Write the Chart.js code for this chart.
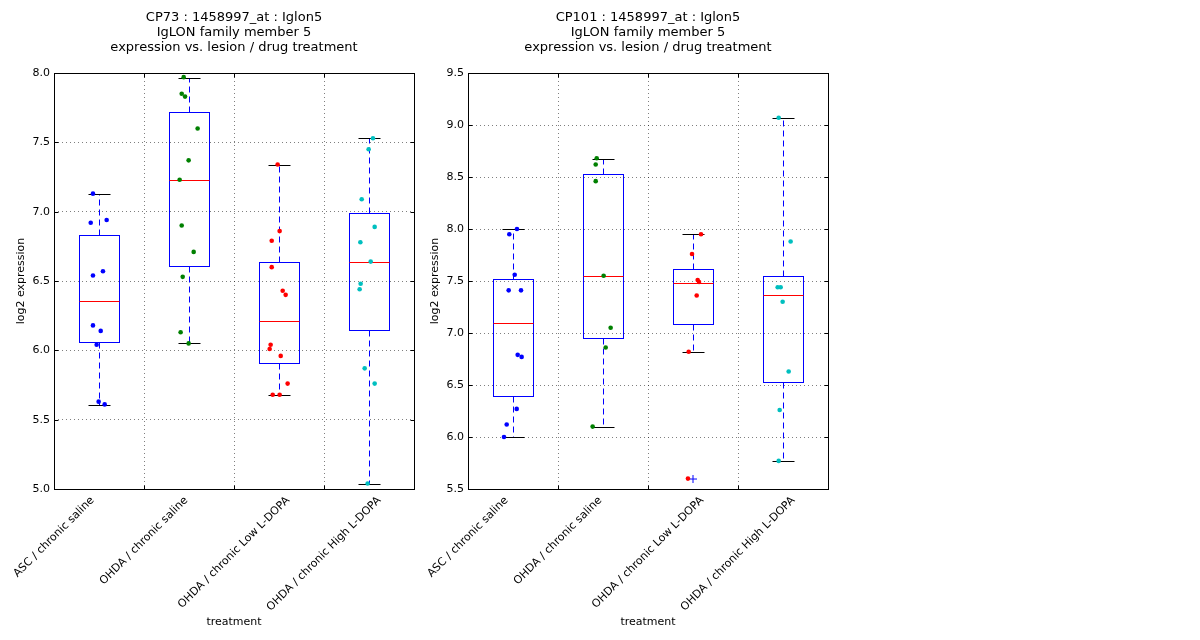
<!DOCTYPE html>
<html>
<head>
<meta charset="utf-8">
<script src="https://cdn.jsdelivr.net/npm/chart.js@4.4.0/dist/chart.umd.min.js"></script>
<style>
body { margin: 0; background: #fff; }
#wrap { position: relative; width: 1200px; height: 640px; overflow: hidden; }
#c1 { position: absolute; left: 0; top: 0; }
#c2 { position: absolute; left: 420px; top: 0; }
</style>
</head>
<body>
<div id="wrap">
  <canvas id="c1" width="468" height="640"></canvas>
  <canvas id="c2" width="456" height="640"></canvas>
</div>
<script>
var categories = ['ASC / chronic saline', 'OHDA / chronic saline', 'OHDA / chronic Low L-DOPA', 'OHDA / chronic High L-DOPA'];
var groupColors = ['#0000ff', '#008000', '#ff0000', '#00bfbf'];
var labelTicks = [0.5, 1.5, 2.5, 3.5];

// CP73 - one array per treatment group, plus the x jitter used for each dot
var cp73Values = [
    [7.13, 6.92, 6.94, 6.57, 6.54, 6.18, 6.14, 6.04, 5.63, 5.61],
    [7.97, 7.85, 7.83, 7.60, 7.37, 7.23, 6.90, 6.71, 6.53, 6.13, 6.05],
    [7.34, 6.86, 6.79, 6.60, 6.43, 6.40, 6.04, 6.01, 5.96, 5.76, 5.68, 5.68],
    [7.53, 7.45, 7.09, 6.89, 6.78, 6.64, 6.48, 6.44, 5.87, 5.76, 5.04]
];
var cp73Jitter = [
    [0.933, 0.908, 1.085, 1.044, 0.933, 0.933, 1.019, 0.974, 0.996, 1.063],
    [1.941, 1.919, 1.956, 2.096, 1.996, 1.896, 1.919, 2.052, 1.930, 1.907, 1.996],
    [2.985, 3.007, 2.919, 2.919, 3.041, 3.074, 2.907, 2.896, 3.019, 3.096, 2.930, 3.007],
    [4.044, 3.996, 3.919, 4.063, 3.904, 4.019, 3.907, 3.896, 3.952, 4.063, 3.985]
];
var cp73Q1 = [6.06, 6.61, 5.91, 6.15];
var cp73Median = [6.355, 7.23, 6.215, 6.635];
var cp73Q3 = [6.83, 7.72, 6.64, 6.99];
var cp73Low = [5.605, 6.05, 5.677, 5.035];
var cp73High = [7.127, 7.965, 7.337, 7.531];
var cp73Fliers = [[], [], [], []];

// CP101
var cp101Values = [
    [8.00, 7.95, 7.56, 7.41, 7.41, 6.79, 6.77, 6.27, 6.12, 6.00],
    [8.68, 8.62, 8.46, 7.55, 7.05, 6.86, 6.10],
    [7.95, 7.76, 7.51, 7.49, 7.36, 6.82, 5.60],
    [9.07, 7.88, 7.44, 7.44, 7.30, 6.63, 6.26, 5.77]
];
var cp101Jitter = [
    [1.044, 0.959, 1.019, 0.952, 1.089, 1.052, 1.096, 1.041, 0.930, 0.900],
    [1.930, 1.919, 1.919, 2.007, 2.085, 2.030, 1.885],
    [3.089, 2.989, 3.052, 3.067, 3.041, 2.952, 2.944],
    [3.952, 4.085, 3.941, 3.974, 3.996, 4.063, 3.963, 3.952]
];
var cp101Q1 = [6.39, 6.95, 7.085, 6.527];
var cp101Median = [7.095, 7.547, 7.479, 7.364];
var cp101Q3 = [7.515, 8.53, 7.62, 7.545];
var cp101Low = [6.0, 6.094, 6.816, 5.767];
var cp101High = [8.0, 8.673, 7.952, 9.068];
var cp101Fliers = [[], [], [5.596], []];

Chart.defaults.font.family = "'DejaVu Sans', sans-serif";
Chart.defaults.font.size = 11;
Chart.defaults.color = '#000';

function px(v) { return Math.round(v) + 0.5; }

function line(ctx, x1, y1, x2, y2) {
    ctx.beginPath();
    ctx.moveTo(x1, y1);
    ctx.lineTo(x2, y2);
    ctx.stroke();
}

// boxes, whiskers, caps and medians, placed with the chart's own scales
var boxPlugin = {
    id: 'boxes',
    beforeDatasetsDraw: function(chart) {
        var st = chart.config.options.boxStats;
        var xs = chart.scales.x, ys = chart.scales.y, ctx = chart.ctx;
        ctx.save();
        ctx.lineWidth = 1;
        for (var i = 0; i < categories.length; i++) {
            var c = i + 1;
            var xl = px(xs.getPixelForValue(c - 0.225)), xr = px(xs.getPixelForValue(c + 0.225));
            var xc = px(xs.getPixelForValue(c));
            var cl = px(xs.getPixelForValue(c - 0.125)), cr = px(xs.getPixelForValue(c + 0.125));
            var yq1 = px(ys.getPixelForValue(st.q1[i])), yq3 = px(ys.getPixelForValue(st.q3[i]));
            var ym = px(ys.getPixelForValue(st.median[i]));
            var ylo = px(ys.getPixelForValue(st.low[i])), yhi = px(ys.getPixelForValue(st.high[i]));

            ctx.strokeStyle = '#0000ff';
            ctx.setLineDash([6, 4]);
            line(ctx, xc, yq3, xc, yhi);
            line(ctx, xc, yq1, xc, ylo);
            ctx.setLineDash([]);

            ctx.strokeStyle = '#000';
            line(ctx, cl, yhi, cr, yhi);
            line(ctx, cl, ylo, cr, ylo);

            ctx.strokeStyle = '#0000ff';
            ctx.strokeRect(xl, yq3, xr - xl, yq1 - yq3);

            ctx.strokeStyle = '#ff0000';
            line(ctx, xl, ym, xr, ym);
        }
        ctx.restore();
    }
};

// axes frame with inward tick marks, and the rotated category labels
// centred on the x ticks (the way the original plot aligns them)
var framePlugin = {
    id: 'frame',
    afterDatasetsDraw: function(chart) {
        var a = chart.chartArea, ctx = chart.ctx;
        var xs = chart.scales.x, ys = chart.scales.y;
        var l = px(a.left), t = px(a.top), r = px(a.right), b = px(a.bottom);
        ctx.save();
        ctx.strokeStyle = '#000';
        ctx.lineWidth = 1;
        ctx.strokeRect(l, t, r - l, b - t);
        ys.ticks.forEach(function(tk) {
            var y = px(ys.getPixelForValue(tk.value));
            line(ctx, l, y, l + 4, y);
            line(ctx, r - 4, y, r, y);
        });
        xs.ticks.forEach(function(tk) {
            if (tk.value <= xs.min) return;
            var x = px(xs.getPixelForValue(tk.value));
            line(ctx, x, b, x, b - 4);
            line(ctx, x, t, x, t + 4);
        });

        ctx.font = "11px 'DejaVu Sans', sans-serif";
        ctx.fillStyle = '#000';
        ctx.textAlign = 'center';
        ctx.textBaseline = 'middle';
        var s = Math.SQRT1_2;
        labelTicks.forEach(function(v, i) {
            var w = ctx.measureText(categories[i]).width;
            var boxH = (w + 13) * s;
            var cx = xs.getPixelForValue(v);
            var cy = a.bottom + 5 + boxH / 2;
            ctx.save();
            ctx.translate(cx, cy);
            ctx.rotate(-Math.PI / 4);
            ctx.fillText(categories[i], 0, 0);
            ctx.restore();
        });
        ctx.restore();
    }
};

function buildDatasets(values, jitter, fliers) {
    var sets = [];
    for (var i = 0; i < values.length; i++) {
        sets.push({
            data: values[i].map(function(v, k) { return { x: jitter[i][k], y: v }; }),
            backgroundColor: groupColors[i],
            borderWidth: 0,
            pointRadius: 2.3
        });
    }
    var fl = [];
    fliers.forEach(function(arr, i) {
        arr.forEach(function(v) { fl.push({ x: i + 1, y: v }); });
    });
    sets.push({
        data: fl,
        pointStyle: 'cross',
        pointRadius: 4,
        borderColor: '#0000ff',
        borderWidth: 1
    });
    return sets;
}

function makeChart(id, title, yMin, yMax, yWidth, yTitlePad, values, jitter, stats, fliers) {
    return new Chart(document.getElementById(id), {
        type: 'scatter',
        data: { datasets: buildDatasets(values, jitter, fliers) },
        plugins: [boxPlugin, framePlugin],
        options: {
            responsive: false,
            animation: false,
            devicePixelRatio: 1,
            boxStats: stats,
            layout: { padding: 0 },
            plugins: {
                legend: { display: false },
                tooltip: { enabled: false },
                title: {
                    display: true,
                    text: title,
                    color: '#000',
                    font: { size: 13, weight: 'normal', lineHeight: 1.154 },
                    padding: { top: 10, bottom: 18 }
                }
            },
            scales: {
                x: {
                    type: 'linear',
                    min: 0.5,
                    max: 4.5,
                    afterBuildTicks: function(s) {
                        s.ticks = labelTicks.map(function(v) { return { value: v }; });
                    },
                    afterFit: function(s) { s.height = 151; },
                    grid: { drawTicks: false, lineWidth: 1, color: 'rgba(0,0,0,0.5)' },
                    border: { display: false, dash: [1, 3] },
                    ticks: { display: false },
                    title: {
                        display: true,
                        text: 'treatment',
                        padding: { top: 0, bottom: 11 }
                    }
                },
                y: {
                    min: yMin,
                    max: yMax,
                    afterFit: function(s) { s.width = yWidth; },
                    grid: { drawTicks: false, color: 'rgba(0,0,0,0.5)', lineWidth: 1 },
                    border: { display: false, dash: [1, 3] },
                    ticks: {
                        stepSize: 0.5,
                        padding: 4,
                        callback: function(v) { return v.toFixed(1); }
                    },
                    title: {
                        display: true,
                        text: 'log2 expression',
                        padding: { top: yTitlePad, bottom: 0 }
                    }
                },
                y2: {
                    position: 'right',
                    min: yMin,
                    max: yMax,
                    afterFit: function(s) { s.width = yWidth; },
                    grid: { display: false },
                    border: { display: false },
                    ticks: { display: false }
                }
            }
        }
    });
}

makeChart('c1', ['CP73 : 1458997_at : Iglon5', 'IgLON family member 5', 'expression vs. lesion / drug treatment'],
    5.0, 8.0, 54, 15, cp73Values, cp73Jitter,
    { q1: cp73Q1, median: cp73Median, q3: cp73Q3, low: cp73Low, high: cp73High }, cp73Fliers);

makeChart('c2', ['CP101 : 1458997_at : Iglon5', 'IgLON family member 5', 'expression vs. lesion / drug treatment'],
    5.5, 9.5, 48, 9, cp101Values, cp101Jitter,
    { q1: cp101Q1, median: cp101Median, q3: cp101Q3, low: cp101Low, high: cp101High }, cp101Fliers);
</script>
</body>
</html>
